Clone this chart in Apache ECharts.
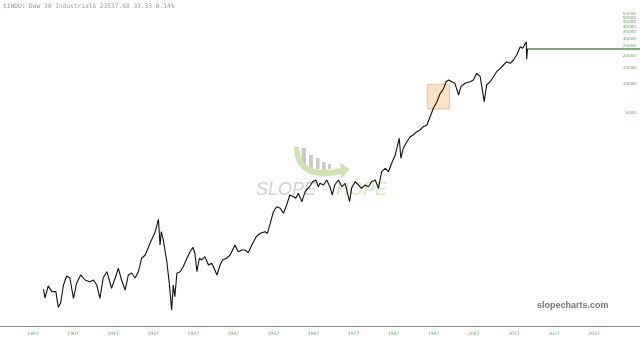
<!DOCTYPE html>
<html><head><meta charset="utf-8">
<script src="https://cdn.jsdelivr.net/npm/echarts@6/dist/echarts.min.js"></script>
<style>html,body{margin:0;padding:0;background:#fff}#c{width:640px;height:342px}</style>
</head><body><div id="c"></div>
<script>
const titleText = '$INDU: Dow 30 Industrials 23537.68 33.33 0.14%';
const xTicks = [1897,1907,1917,1927,1937,1947,1957,1967,1977,1987,1997,2007,2017,2027,2037];
const yTicks = [5000,10000,15000,20000,25000,30000,35000,40000,45000,50000,55000,60000];
const years = [1899.6,1900.0,1900.8,1901.7,1902.7,1903.3,1903.9,1904.6,1905.4,1906.2,1907.1,1907.9,1908.9,1910.0,1911.1,1912.1,1912.9,1913.7,1914.5,1915.4,1915.8,1916.6,1917.5,1918.3,1919.1,1920.0,1920.8,1921.6,1922.5,1923.3,1924.1,1925.0,1926.2,1927.5,1928.3,1928.7,1929.0,1929.5,1930.4,1931.0,1931.6,1932.0,1932.4,1932.9,1933.7,1934.5,1935.4,1936.2,1936.9,1937.4,1937.9,1938.5,1939.1,1939.9,1940.8,1941.6,1942.2,1942.9,1943.7,1944.3,1945.3,1946.2,1947.4,1948.2,1949.1,1949.9,1950.7,1951.6,1952.7,1953.7,1954.9,1955.5,1956.2,1957.0,1957.8,1958.7,1959.5,1960.3,1961.1,1962.1,1962.6,1963.2,1964.1,1964.9,1966.0,1966.8,1967.6,1968.2,1968.6,1969.5,1970.3,1971.1,1971.7,1972.3,1973.2,1974.1,1974.9,1976.0,1976.5,1977.4,1978.2,1979.0,1979.9,1980.7,1981.5,1982.4,1983.2,1984.0,1984.9,1985.7,1986.5,1987.4,1988.4,1988.8,1989.4,1990.3,1991.1,1991.9,1992.8,1993.6,1994.4,1995.3,1996.1,1996.9,1997.8,1998.6,1999.4,2000.1,2000.7,2001.5,2002.3,2003.2,2003.8,2004.8,2006.1,2006.9,2007.7,2008.6,2009.0,2009.6,2010.2,2011.1,2011.9,2012.7,2013.6,2014.4,2015.2,2016.1,2016.9,2017.7,2018.6,2019.2,2020.1,2020.2,2020.4];
const closes = [71.4,57.9,77.3,67.4,67.4,46.3,51.3,79.2,98.4,93.7,57.4,83.1,100.8,89.3,85.8,89.3,79.2,57.4,93.7,109.1,96.7,73.1,93.7,118.4,89.3,70.2,100.8,105.7,93.7,109.1,150.8,163.2,216.4,286.2,385.9,207.7,286.2,234.3,138.8,83.1,43.3,79.2,59.7,105.0,109.1,123.1,150.8,176.7,196.5,170.0,109.1,150.8,144.7,156.6,128.2,133.6,118.4,100.8,128.2,144.7,150.8,163.2,207.7,176.7,184.1,184.1,172.5,207.7,253.7,275.4,286.2,275.4,350.5,463.7,523.1,503.2,446.0,544.9,693.4,665.5,640.3,722.6,590.0,750.9,847.0,955.5,995.5,847.0,919.4,882.4,995.5,847.0,693.4,882.4,995.5,847.0,919.4,590.0,814.8,955.5,882.4,814.8,882.4,847.0,955.5,995.5,814.8,1216,1320,1216,1489,1819,2720,1680,2138,2506,2828,2946,3190,3323,3599,3750,4581,5608,6577,8000,8900,10650,11100,10650,10250,7729,9441,10250,10650,11100,13040,12020,9441,6577,9836,10650,12020,13550,14715,15930,17250,16600,17970,20280,24770,23840,27940,18280,23537.68];
const boxYears = [1995.4, 2000.9];
const boxValues = [5514, 10000];
const lastPrice = 23537.68;

const xMin = 1888.76, xMax = 2048.48;
const green = '#5f9f5f';
const chart = echarts.init(document.getElementById('c'), null, {renderer: 'canvas'});
const seriesData = years.map((y, i) => [y, closes[i]]);
chart.setOption({
  animation: false,
  grid: {left: 0, right: 0, top: 0, bottom: 16},
  xAxis: {
    type: 'value', min: xMin, max: xMax,
    axisLine: {show: true, lineStyle: {color: '#8a8a8a', width: 1}},
    axisTick: {show: false},
    splitLine: {show: false},
    axisLabel: {customValues: xTicks, formatter: v => String(v), color: green, fontSize: 4.5, margin: 5.5, fontFamily: 'DejaVu Sans'}
  },
  yAxis: {
    type: 'log', logBase: 10, min: 29.45, max: 76370, position: 'right',
    axisLine: {show: false}, axisTick: {show: false}, splitLine: {show: false},
    axisLabel: {inside: true, customValues: yTicks, formatter: v => String(Math.round(v)), color: green, fontSize: 4.2, margin: 4, fontFamily: 'DejaVu Sans'}
  },
  graphic: [
    {type: 'text', x: 3, y: 3, z: 10, style: {text: titleText, fill: '#9a9a9a', font: '6.2px "DejaVu Sans Mono"'}},
    {type: 'text', x: 537, y: 301, z: 10, style: {text: 'slopecharts.com', fill: '#777777', font: 'bold 9px "Liberation Sans"'}},
    {type: 'rect', z: 0, shape: {x: 301.5, y: 148, width: 4.5, height: 19}, style: {fill: '#c9c9c9'}},
    {type: 'rect', z: 0, shape: {x: 309, y: 155, width: 4, height: 13}, style: {fill: '#c9c9c9'}},
    {type: 'rect', z: 0, shape: {x: 316, y: 158, width: 3.5, height: 11}, style: {fill: '#c9c9c9'}},
    {type: 'rect', z: 0, shape: {x: 322, y: 162, width: 3.5, height: 8}, style: {fill: '#c9c9c9'}},
    {type: 'rect', z: 0, shape: {x: 328, y: 164, width: 3, height: 5}, style: {fill: '#c9c9c9'}},
    {type: 'polygon', z: 0, shape: {points: [[294,147],[295,157],[298,164],[303,170],[310,174],[320,176],[330,176],[341,174],[342,178],[350,169],[340,163],[341,168],[330,170],[320,170],[311,168],[305,164],[301,158],[299,147]]}, style: {fill: '#cfe2b0'}},
    {type: 'text', z: 0, x: 256, y: 181, style: {text: 'SLOPE', fill: '#cfcfcf', font: 'italic 18px "Liberation Sans"'}},
    {type: 'text', z: 0, x: 322, y: 186, style: {text: 'OF', fill: '#dcdcdc', font: '7px "Liberation Sans"'}},
    {type: 'text', z: 0, x: 336, y: 181, style: {text: 'HOPE', fill: '#d6e8c0', font: 'italic 18px "Liberation Sans"'}}
  ],
  series: [{
    type: 'line', data: seriesData, showSymbol: false, symbol: 'none', z: 5,
    lineStyle: {color: '#111', width: 1.1},
    markArea: {silent: true, itemStyle: {color: 'rgba(252,214,178,0.75)', borderColor: '#f2c08e', borderWidth: 1},
      data: [[{coord: [boxYears[0], boxValues[0]]}, {coord: [boxYears[1], boxValues[1]]}]]},
    markLine: {silent: true, symbol: 'none', label: {show: false},
      lineStyle: {color: '#4f8f4f', width: 1.6, type: 'solid'},
      data: [[{coord: [years[years.length - 1], lastPrice]}, {coord: [xMax, lastPrice]}]]}
  }]
});
</script></body></html>
